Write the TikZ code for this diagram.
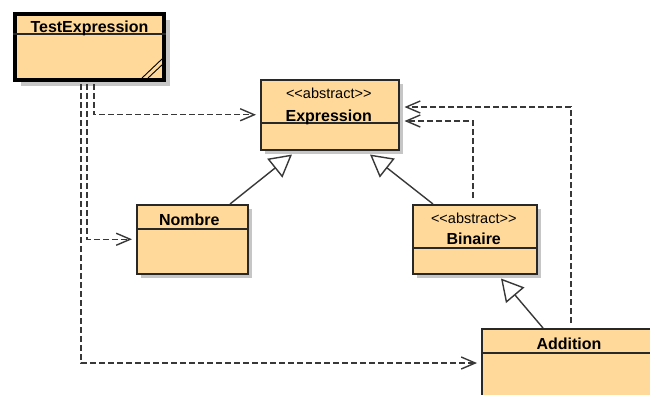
\documentclass[tikz,border=0pt]{standalone}
\usepackage{fontspec}
\setmainfont{Liberation Sans}
\usetikzlibrary{arrows.meta,calc,shadows}
\definecolor{boxfill}{RGB}{255,217,153}
\definecolor{linegray}{RGB}{56,56,56}
\definecolor{shadowgray}{RGB}{198,198,198}
\definecolor{bordercol}{RGB}{40,40,40}
\begin{document}
\begin{tikzpicture}[x=1pt,y=-1pt,
  umlbox/.style={draw=bordercol, line width=1.5pt, fill=boxfill, inner sep=0pt, anchor=north west,
    drop shadow={shadow xshift=4pt, shadow yshift=-4pt, fill=shadowgray, opacity=1}},
  mainbox/.style={draw=black, line width=4pt, fill=boxfill, inner sep=0pt, anchor=north west,
    drop shadow={shadow xshift=6pt, shadow yshift=-6pt, fill=shadowgray, opacity=1}},
  divline/.style={draw=bordercol, line width=1.5pt},
  namelbl/.style={anchor=base, inner sep=0pt, font=\fontsize{16}{18}\selectfont\bfseries},
  stereolbl/.style={anchor=base, inner sep=0pt, font=\fontsize{14.5}{16}\selectfont},
  dep/.style={draw=linegray, line width=1.4pt, dash pattern=on 6pt off 3pt,
    -{Straight Barb[length=14pt,width=12pt]}},
  gen/.style={draw=linegray, line width=1.4pt,
    -{Triangle[length=22pt,width=24pt,fill=white]}}
]
\useasboundingbox (0,0) rectangle (650,394);
\fill[white] (0,0) rectangle (650,394);
\clip (0,0) rectangle (650,394);

% boxes
\node[mainbox, minimum width=149pt, minimum height=66pt] (test) at (13,12) {};
\node[umlbox, minimum width=138pt, minimum height=70pt] (expr) at (260,79) {};
\node[umlbox, minimum width=111pt, minimum height=69pt] (nombre) at (136,204) {};
\node[umlbox, minimum width=124pt, minimum height=69pt] (binaire) at (412,204) {};
\node[umlbox, minimum width=179pt, minimum height=82pt] (addition) at (481,328) {};

% dividers
\draw[divline] ($(test.north west)+(0,22)$) -- ($(test.north east)+(0,22)$);
\draw[divline] ($(expr.north west)+(0,44)$) -- ($(expr.north east)+(0,44)$);
\draw[divline] ($(nombre.north west)+(0,25)$) -- ($(nombre.north east)+(0,25)$);
\draw[divline] ($(binaire.north west)+(0,44)$) -- ($(binaire.north east)+(0,44)$);
\draw[divline] ($(addition.north west)+(0,25)$) -- ($(addition.north east)+(0,25)$);

% grip on TestExpression
\draw[black, line width=0.9pt] ($(test.south east)+(-24,-4)$) -- ($(test.south east)+(-4,-23)$);
\draw[black, line width=0.9pt] ($(test.south east)+(-18,-4)$) -- ($(test.south east)+(-3,-18)$);

% labels
\node[namelbl] (testName) at ($(test.north)+(0,20)$) {TestExpression};
\node[stereolbl] (exprStereo) at ($(expr.north)+(-1,19)$) {<\kern0pt<abstract>\kern0pt>};
\node[namelbl] (exprName) at ($(expr.north)+(-1,42)$) {Expression};
\node[namelbl] (nombreName) at ($(nombre.north)+(-3,21)$) {Nombre};
\node[stereolbl] (binaireStereo) at ($(binaire.north)+(-1,19)$) {<\kern0pt<abstract>\kern0pt>};
\node[namelbl] (binaireName) at ($(binaire.north)+(-1,40)$) {Binaire};
\node[namelbl] (additionName) at ($(addition.north west)+(88,21)$) {Addition};

% dependencies from TestExpression
\draw[dep] ($(test.south west)+(81,2)$) |- ($(expr.west)+(-4,0)$);
\draw[dep] ($(test.south west)+(74,2)$) |- ($(nombre.west)+(-4,0)$);
\draw[dep] ($(test.south west)+(68,2)$) |- ($(addition.north west)+(-4,35)$);

% dependencies to Expression from right
\draw[dep] ($(binaire.north west)+(61,-6)$) |- ($(expr.north east)+(5,42)$);
\draw[dep] ($(addition.north west)+(90,-5)$) |- ($(expr.north east)+(5,28)$);

% generalizations
\draw[gen] ($(nombre.north west)+(94,0)$) -- ($(expr.south west)+(32,4)$);
\draw[gen] ($(binaire.north west)+(21,0)$) -- ($(expr.south west)+(110,4)$);
\draw[gen] ($(addition.north west)+(62,0)$) -- ($(binaire.south west)+(89,4)$);
\end{tikzpicture}
\end{document}
